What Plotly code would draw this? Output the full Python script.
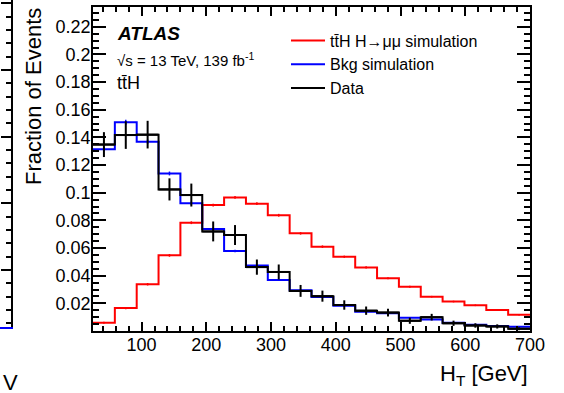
import plotly.graph_objects as go

# ---------------- data ----------------
bin_edges = [25.0, 58.75, 92.5, 126.25, 160.0, 193.75, 227.5, 261.25, 295.0, 328.75,
             362.5, 396.25, 430.0, 463.75, 497.5, 531.25, 565.0, 598.75, 632.5, 666.25, 700.0]

sig_values = [0.0060, 0.0166, 0.0338, 0.0547, 0.0783, 0.0911, 0.0966, 0.0921, 0.0837, 0.0706,
              0.0610, 0.0537, 0.0460, 0.0381, 0.0320, 0.0248, 0.0213, 0.0186, 0.0152, 0.0117]
sig_errors = [0.0007, 0.0008, 0.0009, 0.0010, 0.0010, 0.0010, 0.0010, 0.0010, 0.0010, 0.0009,
              0.0009, 0.0008, 0.0008, 0.0007, 0.0007, 0.0006, 0.0006, 0.0006, 0.0005, 0.0005]

bkg_values = [0.1315, 0.1510, 0.1369, 0.1139, 0.0924, 0.0738, 0.0579, 0.0473, 0.0369, 0.0295,
              0.0245, 0.0182, 0.0140, 0.0128, 0.0095, 0.0084, 0.0060, 0.0046, 0.0037, 0.0030]
bkg_errors = [0.0015, 0.0018, 0.0016, 0.0014, 0.0012, 0.0010, 0.0009, 0.0008, 0.0007, 0.0006,
              0.0006, 0.0005, 0.0005, 0.0004, 0.0004, 0.0004, 0.0003, 0.0003, 0.0003, 0.0003]

data_values = [0.1348, 0.1417, 0.1420, 0.1024, 0.0983, 0.0720, 0.0694, 0.0462, 0.0427, 0.0290,
               0.0252, 0.0188, 0.0147, 0.0133, 0.0074, 0.0100, 0.0056, 0.0040, 0.0033, 0.0016]
data_errors = [0.0090, 0.0100, 0.0100, 0.0080, 0.0083, 0.0072, 0.0072, 0.0055, 0.0054, 0.0043,
               0.0040, 0.0034, 0.0030, 0.0028, 0.0022, 0.0024, 0.0019, 0.0016, 0.0015, 0.0010]

y_tick_vals = [0.02, 0.04, 0.06, 0.08, 0.10, 0.12, 0.14, 0.16, 0.18, 0.20, 0.22]
y_tick_text = ["0.02", "0.04", "0.06", "0.08", "0.1", "0.12", "0.14", "0.16", "0.18", "0.2", "0.22"]
x_tick_vals = [100, 200, 300, 400, 500, 600, 700]
x_tick_text = ["100", "200", "300", "400", "500", "600", "700"]

series_names = ["tt\u0304H H\u2192\u03bc\u03bc simulation", "Bkg simulation", "Data"]
series_colors = ["#ff0000", "#0000ff", "#000000"]

FONT = "Liberation Sans, Arial, Helvetica, sans-serif"
W, H = 564, 393

centers = [(bin_edges[i] + bin_edges[i + 1]) / 2 for i in range(len(bin_edges) - 1)]
halfw = [(bin_edges[i + 1] - bin_edges[i]) / 2 for i in range(len(bin_edges) - 1)]

fig = go.Figure()

def add_hist(vals, errs, name, color, xerr=False, ethick=1.5):
    fig.add_trace(go.Scatter(
        x=bin_edges, y=vals + [vals[-1]], mode="lines", line=dict(color=color, width=2, shape="hv"),
        name=name, showlegend=True, legendgroup=name, hoverinfo="skip"))
    fig.add_trace(go.Scatter(
        x=centers, y=vals, mode="markers", marker=dict(size=1, color=color, opacity=0),
        error_y=dict(type="data", array=errs, visible=True, color=color, thickness=ethick, width=0),
        error_x=dict(type="data", array=halfw, visible=xerr, color=color, thickness=ethick, width=0),
        showlegend=False, legendgroup=name, hoverinfo="skip"))

add_hist(sig_values, sig_errors, series_names[0], series_colors[0])
add_hist(bkg_values, bkg_errors, series_names[1], series_colors[1])
add_hist(data_values, data_errors, series_names[2], series_colors[2], xerr=True, ethick=2)

x0p, x1p = 93 / W, 530 / W
y0p, y1p = 1 - 331 / H, 1 - 7 / H

axis_common = dict(showline=True, linecolor="black", linewidth=1.5, mirror="allticks",
                   ticks="inside", tickcolor="black", tickwidth=1.5, showgrid=False,
                   zeroline=False, automargin=False,
                   tickfont=dict(family=FONT, size=18, color="black"))

fig.update_layout(
    width=W, height=H, margin=dict(l=0, r=0, t=0, b=0, pad=0, autoexpand=False),
    paper_bgcolor="white", plot_bgcolor="white",
    font=dict(family=FONT, color="black"),
    xaxis=dict(domain=[x0p, x1p], range=[25, 700], tickmode="array", tickvals=x_tick_vals,
               ticktext=x_tick_text, ticklen=9.5, ticklabelstandoff=-3,
               minor=dict(ticks="inside", ticklen=5, dtick=20, tick0=0, tickcolor="black", tickwidth=1.5),
               **axis_common),
    yaxis=dict(domain=[y0p, y1p], range=[0, 0.2343], tickmode="array", tickvals=y_tick_vals,
               ticktext=y_tick_text, ticklen=13, ticklabelstandoff=-3,
               minor=dict(ticks="inside", ticklen=6.5, dtick=0.005, tick0=0, tickcolor="black", tickwidth=1.5),
               **axis_common),
    # partial neighbouring panel on the far left
    xaxis2=dict(domain=[0, 11 / W], range=[0, 1], showticklabels=False, showgrid=False, zeroline=False,
                showline=True, linecolor="#0000ff", linewidth=2, ticks="", anchor="y2", automargin=False),
    yaxis2=dict(domain=[1 - 327 / H, 1], range=[-0.855, 4.048], side="right", anchor="x2",
                showticklabels=False, showgrid=False, zeroline=False, showline=True, automargin=False,
                linecolor="black", linewidth=1.5, ticks="inside", ticklen=10, tickwidth=1.5,
                tickcolor="black", tickmode="linear", tick0=0, dtick=1,
                minor=dict(ticks="inside", ticklen=5, dtick=0.2, tick0=0, tickcolor="black", tickwidth=1.5)),
    legend=dict(x=286 / W, y=1 - 23.5 / H, xanchor="left", yanchor="top", bgcolor="rgba(0,0,0,0)",
                font=dict(family=FONT, size=16, color="black"), tracegroupgap=0, itemwidth=34),
    showlegend=True,
)

# invisible trace to realise the neighbour axes
fig.add_trace(go.Scatter(x=[0.5], y=[1], mode="markers", marker=dict(opacity=0), xaxis="x2", yaxis="y2",
                         showlegend=False, hoverinfo="skip"))

annotations = [
    dict(text="<b><i>ATLAS</i></b>", x=115 / W, y=1 - 33 / H, xanchor="left", yanchor="middle",
         font=dict(size=19)),
    dict(text="\u221as = 13 TeV, 139 fb<sup>-1</sup>", x=115 / W, y=1 - 59 / H, xanchor="left",
         yanchor="middle", font=dict(size=15)),
    dict(text="tt\u0304H", x=115 / W, y=1 - 83 / H, xanchor="left", yanchor="middle", font=dict(size=18)),
    dict(text="Fraction of Events", textangle=-90, x=33.5 / W, y=1 - 6 / H, xanchor="center",
         yanchor="top", font=dict(size=22)),
    dict(text="H<sub>T</sub> [GeV]", x=530 / W, y=1 - 375 / H, xanchor="right", yanchor="middle",
         font=dict(size=22)),
    dict(text="V", x=1 / W, y=1 - 382 / H, xanchor="left", yanchor="middle", font=dict(size=22)),
]
for a in annotations:
    a.update(xref="paper", yref="paper", showarrow=False)
    a["font"]["family"] = FONT
    a["font"]["color"] = "black"
fig.update_layout(annotations=annotations)

fig.write_html("out.html")
